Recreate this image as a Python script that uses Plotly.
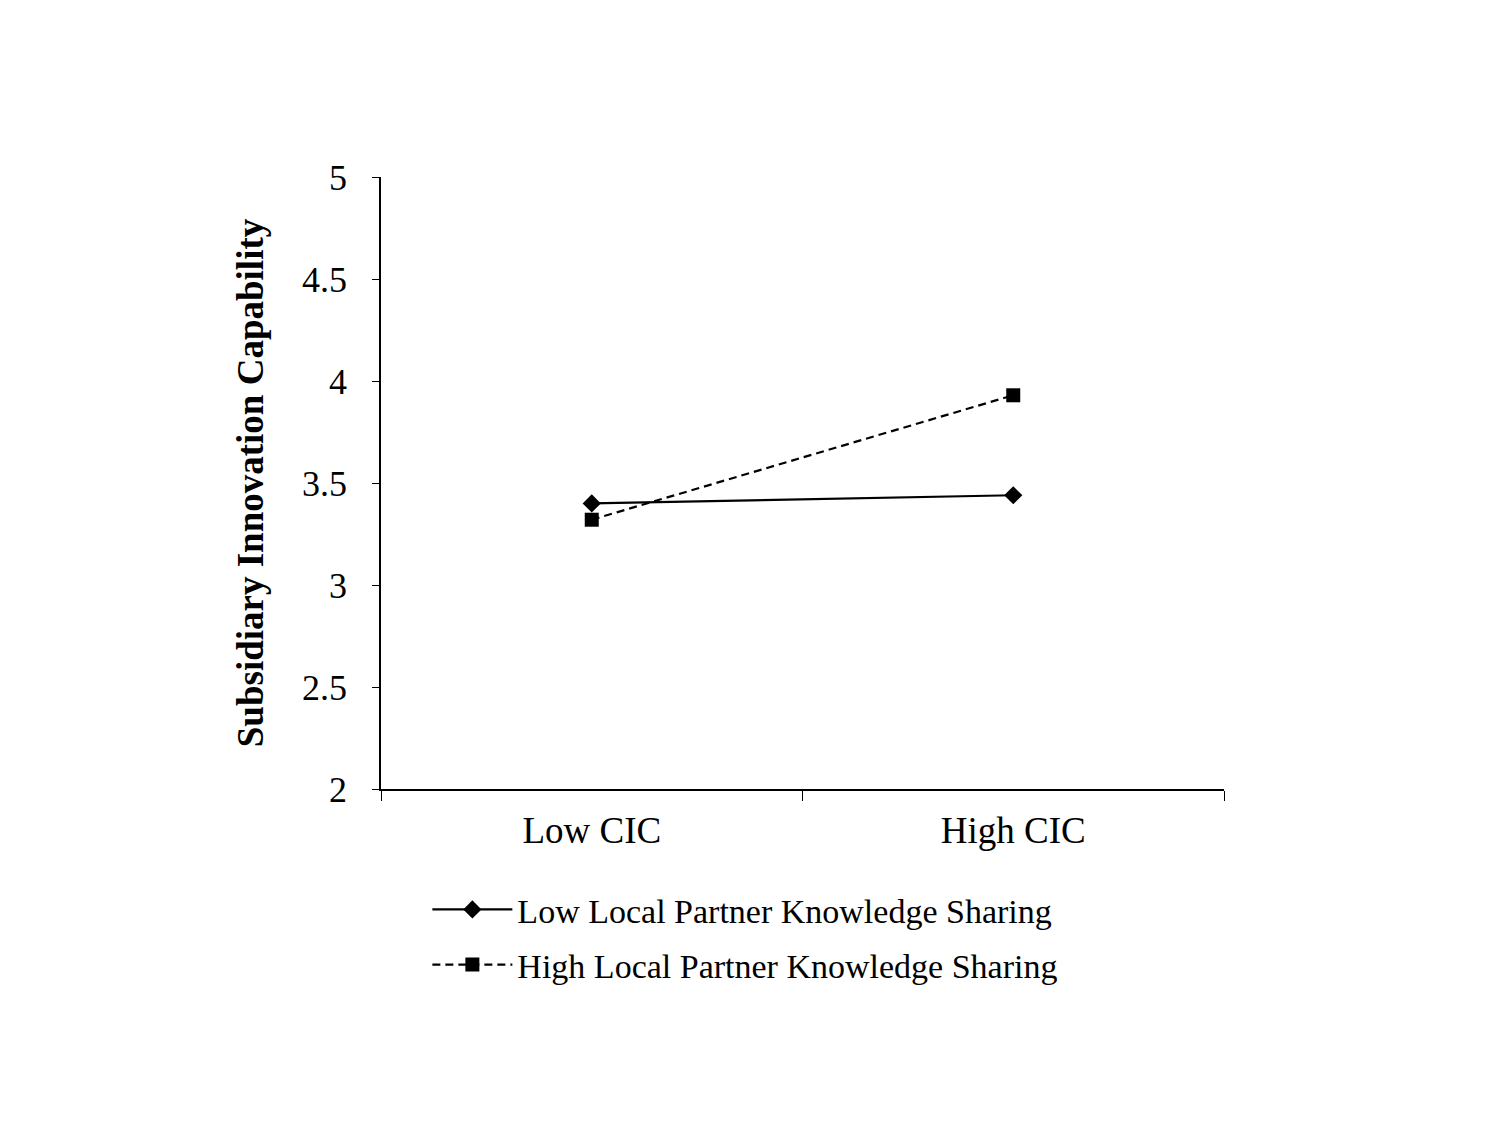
import plotly.graph_objects as go

categories = ["Low CIC", "High CIC"]
low_sharing = [3.40, 3.44]
high_sharing = [3.32, 3.93]
y_ticks = [2, 2.5, 3, 3.5, 4, 4.5, 5]

FONT = "Liberation Serif, Times New Roman, serif"

fig = go.Figure()
fig.add_trace(go.Scatter(
    x=categories, y=low_sharing, mode="lines+markers",
    name="Low Local Partner Knowledge Sharing", legendgroup="low",
    line=dict(color="black", width=2.2),
    marker=dict(symbol="diamond", size=14, color="black"),
))
fig.add_trace(go.Scatter(
    x=categories, y=high_sharing, mode="lines+markers",
    name="High Local Partner Knowledge Sharing", legendgroup="high",
    line=dict(color="black", width=2.2, dash="8px,5px"),
    marker=dict(symbol="square", size=14, color="black"),
))

fig.update_layout(
    width=1500, height=1125,
    paper_bgcolor="white", plot_bgcolor="white",
    margin=dict(l=373, r=284, t=169, b=344),
    font=dict(family=FONT, color="black", size=34),
    legend=dict(
        x=0.055, y=-0.15, xanchor="left", yanchor="top",
        font=dict(size=34, family=FONT), itemwidth=80,
        tracegroupgap=8, bgcolor="rgba(0,0,0,0)",
    ),
    showlegend=True,
)
fig.update_xaxes(
    type="category", range=[-0.5, 1.5],
    showline=True, linecolor="black", linewidth=1.5,
    ticks="outside", tickson="boundaries", ticklen=10, tickcolor="black",
    tickfont=dict(size=37, family=FONT), ticklabelstandoff=8,
    showgrid=False, zeroline=False,
)
fig.update_yaxes(
    range=[2, 5], tickvals=y_ticks, ticktext=[f"{v:g}" for v in y_ticks],
    showline=True, linecolor="black", linewidth=1.5,
    ticks="outside", ticklen=7, tickcolor="black",
    tickfont=dict(size=36, family=FONT), ticklabelstandoff=18,
    showgrid=False, zeroline=False,
    title=dict(text="<b>Subsidiary Innovation Capability</b>",
               font=dict(size=37, family=FONT), standoff=27),
)

fig.write_html("out.html")
